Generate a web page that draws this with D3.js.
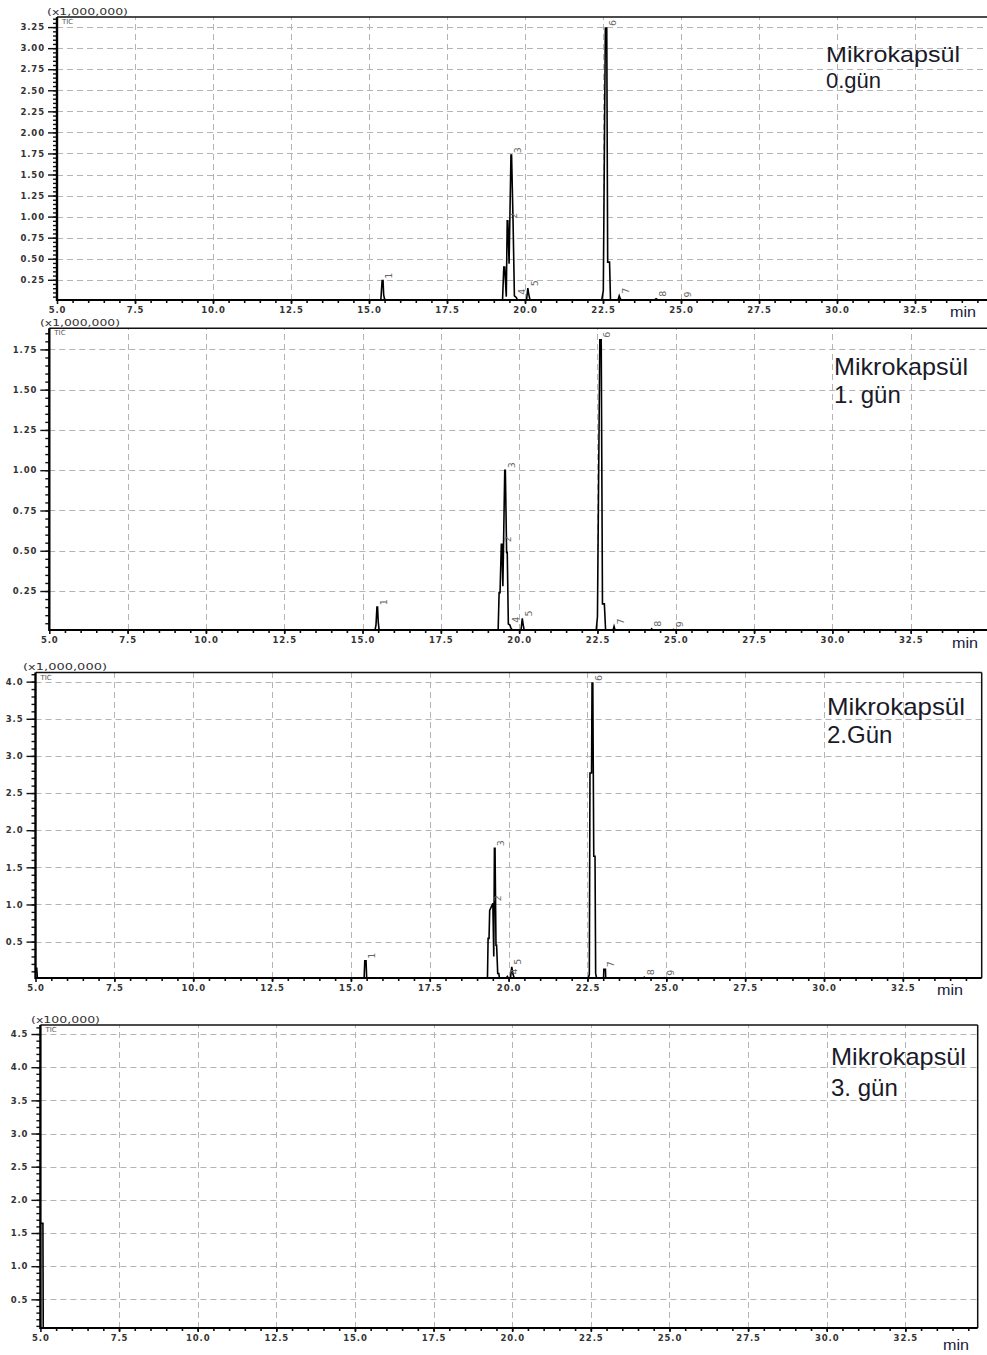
<!DOCTYPE html>
<html><head><meta charset="utf-8">
<script src="https://cdn.jsdelivr.net/npm/d3@7"></script>
<style>body{margin:0;background:#fff}svg{display:block}</style>
</head><body>
<svg id="c" width="987" height="1355"></svg>
<script>
// ---------------- DATA ----------------
const titleLine1 = ["Mikrokapsül", "Mikrokapsül", "Mikrokapsül", "Mikrokapsül"];
const titleLine2 = ["0.gün", "1. gün", "2.Gün", "3. gün"];
const scaleLabels = ["(x1,000,000)", "(x1,000,000)", "(x1,000,000)", "(x100,000)"];
const xTicks = [5.0, 7.5, 10.0, 12.5, 15.0, 17.5, 20.0, 22.5, 25.0, 27.5, 30.0, 32.5];
const yTicks1 = [0.25, 0.50, 0.75, 1.00, 1.25, 1.50, 1.75, 2.00, 2.25, 2.50, 2.75, 3.00, 3.25];
const yTicks2 = [0.25, 0.50, 0.75, 1.00, 1.25, 1.50, 1.75];
const yTicks3 = [0.5, 1.0, 1.5, 2.0, 2.5, 3.0, 3.5, 4.0];
const yTicks4 = [0.5, 1.0, 1.5, 2.0, 2.5, 3.0, 3.5, 4.0, 4.5];

// chromatogram traces [retention time (min), intensity]
const trace1 = [[5.0,0.01],[15.38,0.01],[15.42,0.24],[15.45,0.24],[15.47,0.07],[15.50,0.02],[15.55,0.01],
  [19.28,0.01],[19.32,0.40],[19.35,0.40],[19.40,0.05],[19.43,0.95],[19.45,0.95],[19.49,0.44],[19.55,1.73],[19.57,1.73],
  [19.62,0.89],[19.66,0.06],[19.72,0.04],[19.76,0.01],
  [20.05,0.01],[20.09,0.15],[20.12,0.08],[20.16,0.01],
  [22.46,0.01],[22.51,0.12],[22.575,3.24],[22.62,3.24],[22.65,0.46],[22.71,0.46],[22.74,0.01],
  [22.98,0.01],[23.02,0.06],[23.06,0.02],[23.10,0.01],
  [24.15,0.01],[24.20,0.025],[24.26,0.01],[24.98,0.01],[25.02,0.015],[25.06,0.01],[35.0,0.01]];
const trace2 = [[5.0,0.008],[15.40,0.008],[15.43,0.04],[15.46,0.15],[15.48,0.15],[15.50,0.06],[15.53,0.008],
  [19.33,0.008],[19.36,0.24],[19.39,0.24],[19.43,0.54],[19.45,0.54],[19.48,0.28],[19.54,1.0],[19.56,1.0],
  [19.60,0.49],[19.62,0.49],[19.655,0.045],[19.70,0.04],[19.74,0.02],[19.78,0.008],
  [20.06,0.008],[20.10,0.08],[20.13,0.04],[20.16,0.008],
  [22.46,0.008],[22.50,0.09],[22.575,1.81],[22.62,1.81],[22.66,0.17],[22.72,0.17],[22.76,0.008],
  [23.00,0.008],[23.03,0.03],[23.06,0.008],[24.20,0.008],[24.23,0.015],[24.26,0.008],
  [24.90,0.008],[24.93,0.012],[24.96,0.008],[35.0,0.008]];
const trace3 = [[5.0,0.14],[5.04,0.14],[5.06,0.01],[15.42,0.01],[15.44,0.243],[15.48,0.243],[15.50,0.01],
  [19.33,0.01],[19.35,0.544],[19.38,0.544],[19.40,0.92],[19.50,1.015],[19.53,0.30],[19.55,1.756],[19.57,1.756],
  [19.60,0.45],[19.62,0.45],[19.655,0.07],[19.69,0.07],[19.71,0.01],
  [19.93,0.01],[19.96,0.03],[19.99,0.01],[20.06,0.01],[20.10,0.16],[20.14,0.06],[20.18,0.01],
  [22.53,0.01],[22.56,0.06],[22.58,2.77],[22.63,2.77],[22.645,3.98],[22.67,3.98],[22.70,1.65],[22.74,1.65],[22.76,0.07],[22.79,0.01],
  [23.01,0.01],[23.02,0.127],[23.07,0.127],[23.08,0.01],
  [24.28,0.01],[24.30,0.02],[24.32,0.01],[24.91,0.01],[24.93,0.015],[24.95,0.01],[35.0,0.01]];
const trace4 = [[5.0,0.068],[5.0,1.646],[5.08,1.646],[5.09,0.068],[34.8,0.068]];

// peak numbers, apex times and heights
const peakIds = ["1", "2", "3", "4", "5", "6", "7", "8", "9"];
const peakTimes1 = [15.44, 19.45, 19.57, 19.70, 20.10, 22.60, 23.02, 24.20, 25.02];
const peakHeights1 = [0.24, 0.95, 1.73, 0.05, 0.15, 3.24, 0.06, 0.025, 0.015];
const peakTimes2 = [15.47, 19.44, 19.55, 19.70, 20.10, 22.60, 23.03, 24.23, 24.93];
const peakHeights2 = [0.15, 0.54, 1.00, 0.04, 0.08, 1.81, 0.03, 0.015, 0.012];
const peakTimes3 = [15.46, 19.45, 19.56, 19.96, 20.10, 22.66, 23.05, 24.30, 24.93];
const peakHeights3 = [0.243, 1.015, 1.756, 0.03, 0.16, 3.98, 0.127, 0.02, 0.015];

// ---------------- LAYOUT ----------------
const layouts = [
  {left:57, right:993, xMax:35, top:17, bottom:300, yDom:[0.01,3.37], minor:0.05, fmt:".2f",
   tx:826, ty:62, tdy:26, tfs:22, tlen:134, minX:950, minY:317, sx:47, sy:15, slen:81},
  {left:49.3, right:989, xMax:35, top:328.3, bottom:630, yDom:[0.008,1.881], minor:0.05, fmt:".2f",
   tx:834, ty:375, tdy:28, tfs:24, tlen:134, minX:952, minY:648, sx:40, sy:326, slen:80},
  {left:35.5, right:981.7, xMax:35, top:672.5, bottom:978, yDom:[0.01,4.123], minor:0.1, fmt:".1f",
   tx:827, ty:715, tdy:28, tfs:24, tlen:138, minX:937, minY:995, sx:23, sy:670, slen:84},
  {left:40.4, right:977.7, xMax:34.8, top:1025, bottom:1328, yDom:[0.068,4.636], minor:0.1, fmt:".1f",
   tx:831, ty:1065, tdy:31, tfs:24, tlen:135, minX:943, minY:1350, sx:31, sy:1023, slen:69}
];
const traces = [trace1, trace2, trace3, trace4];
const yTickSets = [yTicks1, yTicks2, yTicks3, yTicks4];
const peakTimeSets = [peakTimes1, peakTimes2, peakTimes3, []];
const peakHeightSets = [peakHeights1, peakHeights2, peakHeights3, []];

const svg = d3.select("#c");
svg.append("rect").attr("width", 987).attr("height", 1355).attr("fill", "#fff");
const defs = svg.append("defs");

layouts.forEach((L, i) => {
  const x = d3.scaleLinear().domain([5, L.xMax]).range([L.left, L.right]);
  const y = d3.scaleLinear().domain(L.yDom).range([L.bottom, L.top]);
  const g = svg.append("g");
  const cid = "clip" + i;
  defs.append("clipPath").attr("id", cid).append("rect")
    .attr("x", L.left).attr("y", L.top).attr("width", L.right - L.left).attr("height", L.bottom - L.top);

  // grid
  const grid = g.append("g").attr("stroke", "#b4b4b4").attr("stroke-width", 1).attr("stroke-dasharray", "6,4");
  grid.selectAll("line.gx").data(xTicks.slice(1)).join("line")
    .attr("x1", d => Math.round(x(d)) + 0.5).attr("x2", d => Math.round(x(d)) + 0.5)
    .attr("y1", L.bottom).attr("y2", L.top);
  grid.selectAll("line.gy").data(yTickSets[i]).join("line")
    .attr("x1", L.left).attr("x2", L.right)
    .attr("y1", d => Math.round(y(d)) + 0.5).attr("y2", d => Math.round(y(d)) + 0.5);

  // trace
  const line = d3.line().x(d => x(d[0])).y(d => y(d[1]));
  g.append("path").datum(traces[i]).attr("clip-path", `url(#${cid})`)
    .attr("d", line).attr("fill", "none").attr("stroke", "#000").attr("stroke-width", 1.6)
    .attr("stroke-linejoin", "miter");

  // peak labels
  const pts = peakTimeSets[i];
  const hs = peakHeightSets[i];
  g.selectAll("text.pk").data(pts).join("text")
    .attr("transform", (d, k) => `translate(${x(d) + 6},${y(hs[k]) - 2}) rotate(-90)`)
    .attr("dominant-baseline", "central")
    .attr("font-family", "DejaVu Sans, sans-serif").attr("font-size", 9.5)
    .attr("fill", "#666").text((d, k) => peakIds[k]);

  // frame: top and right
  g.append("line").attr("x1", L.left).attr("x2", L.right).attr("y1", L.top).attr("y2", L.top)
    .attr("stroke", "#111").attr("stroke-width", 1.6);
  g.append("line").attr("x1", L.right).attr("x2", L.right).attr("y1", L.top).attr("y2", L.bottom)
    .attr("stroke", "#111").attr("stroke-width", 1.5);

  // y axis
  const minorY = d3.range(Math.ceil(L.yDom[0] / L.minor) * L.minor, L.yDom[1], L.minor);
  const ya = g.append("g").attr("transform", `translate(${L.left},0)`);
  ya.call(d3.axisLeft(y).tickValues(minorY).tickSize(4).tickFormat(""));
  ya.append("g").call(d3.axisLeft(y).tickValues(yTickSets[i]).tickSize(9).tickPadding(3).tickFormat(d3.format(L.fmt)));
  ya.selectAll(".domain").remove();
  ya.selectAll("line").attr("stroke", "#111").attr("stroke-width", 1.4);

  // x axis
  const minorX = d3.range(5.5, L.xMax, 0.5);
  const xa = g.append("g").attr("transform", `translate(0,${L.bottom})`);
  xa.call(d3.axisBottom(x).tickValues(minorX).tickSize(3).tickFormat(""));
  xa.append("g").call(d3.axisBottom(x).tickValues(xTicks).tickSize(4).tickPadding(3).tickFormat(d3.format(".1f")));
  xa.selectAll(".domain").remove();
  xa.selectAll("line").attr("stroke", "#111").attr("stroke-width", 1.6);

  svg.selectAll("g.tick text").attr("font-family", "DejaVu Sans, sans-serif").attr("font-weight", "bold")
    .attr("font-size", 8.5).attr("letter-spacing", 0.9).attr("fill", "#333");

  // axis lines
  g.append("line").attr("x1", L.left).attr("x2", L.left).attr("y1", L.top).attr("y2", L.bottom + 1)
    .attr("stroke", "#000").attr("stroke-width", 2.4);
  g.append("line").attr("x1", L.left).attr("x2", L.right).attr("y1", L.bottom).attr("y2", L.bottom)
    .attr("stroke", "#000").attr("stroke-width", 2.2);

  // scale label and TIC
  g.append("text").attr("x", L.sx).attr("y", L.sy).attr("textLength", L.slen).attr("lengthAdjust", "spacingAndGlyphs")
    .attr("font-family", "DejaVu Sans, sans-serif").attr("font-size", 9).attr("fill", "#333").text(scaleLabels[i]);
  g.append("text").attr("x", L.left + 5).attr("y", L.top + 7)
    .attr("font-family", "DejaVu Sans, sans-serif").attr("font-size", 7).attr("fill", "#555").text("TIC");

  // title
  g.append("text").attr("x", L.tx).attr("y", L.ty).attr("textLength", L.tlen).attr("lengthAdjust", "spacingAndGlyphs")
    .attr("font-family", "Liberation Sans, Arial, sans-serif").attr("font-size", L.tfs).attr("fill", "#1a1a2a").text(titleLine1[i]);
  g.append("text").attr("x", L.tx).attr("y", L.ty + L.tdy)
    .attr("font-family", "Liberation Sans, Arial, sans-serif").attr("font-size", L.tfs).attr("fill", "#1a1a2a").text(titleLine2[i]);

  // min label
  g.append("text").attr("x", L.minX).attr("y", L.minY).attr("textLength", 26).attr("lengthAdjust", "spacingAndGlyphs")
    .attr("font-family", "Liberation Sans, Arial, sans-serif").attr("font-size", 14).attr("fill", "#1a1a3a").text("min");
});
</script>
</body></html>
